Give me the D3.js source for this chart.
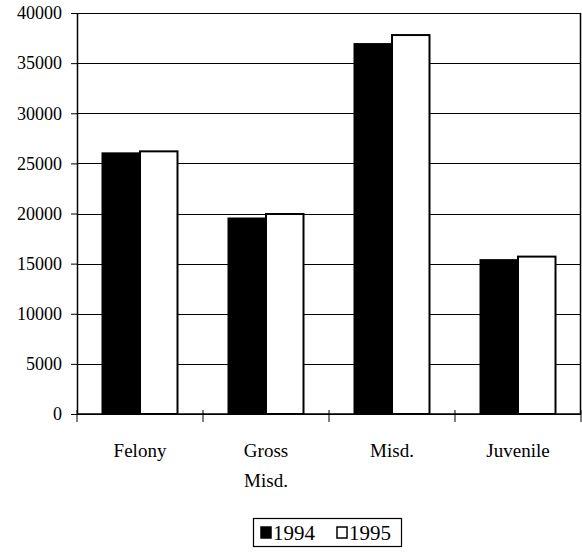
<!DOCTYPE html>
<html><head><meta charset="utf-8">
<script src="https://cdn.jsdelivr.net/npm/d3@7"></script>
<style>body{margin:0;background:#fff}svg{display:block}text{font-family:"Liberation Serif","Times New Roman",serif;fill:#000}</style>
</head><body>
<script>
const categories = ["Felony", "Gross Misd.", "Misd.", "Juvenile"];
const categoryLines = [["Felony"], ["Gross", "Misd."], ["Misd."], ["Juvenile"]];
const years = ["1994", "1995"];
const values1994 = [26000, 19500, 36900, 15350];
const values1995 = [26200, 19950, 37800, 15700];
const yTicks = [0, 5000, 10000, 15000, 20000, 25000, 30000, 35000, 40000];
const colors = {"1994": "#000", "1995": "#fff"};

(function () {
const W = 582, H = 557;
const svg = d3.select("body").append("svg").attr("width", W).attr("height", H);
const pLeft = 77, pRight = 581, pTop = 13, pBottom = 414;

const y = d3.scaleLinear().domain([0, 40000]).range([pBottom, pTop]);
const x0 = d3.scaleBand().domain(categories).range([pLeft, pRight]).padding(0);
const x1 = d3.scaleBand().domain(years).range([0, x0.bandwidth()]).paddingInner(0).paddingOuter(0.68);

// gridlines
svg.append("g").selectAll("line").data(yTicks).join("line")
  .attr("x1", pLeft).attr("x2", pRight)
  .attr("y1", d => Math.round(y(d)) + 0.5).attr("y2", d => Math.round(y(d)) + 0.5)
  .attr("stroke", "#000").attr("stroke-width", 1.2);

// right border
svg.append("line").attr("x1", pRight - 0.5).attr("x2", pRight - 0.5).attr("y1", pTop).attr("y2", pBottom)
  .attr("stroke", "#000").attr("stroke-width", 1.5);

// bars
const rows = categories.map((c, i) => ({cat: c, vals: [values1994[i], values1995[i]]}));
const g = svg.append("g").selectAll("g").data(rows).join("g")
  .attr("transform", d => `translate(${x0(d.cat)},0)`);
g.selectAll("rect").data(d => years.map((yr, j) => ({yr, v: d.vals[j]}))).join("rect")
  .attr("x", d => x1(d.yr))
  .attr("y", d => y(d.v))
  .attr("width", x1.bandwidth())
  .attr("height", d => y(0) - y(d.v))
  .attr("fill", d => colors[d.yr])
  .attr("stroke", "#000").attr("stroke-width", 2);

// y axis
const yAxis = d3.axisLeft(y).tickValues(yTicks).tickSize(6).tickSizeOuter(0).tickPadding(9).tickFormat(d3.format("d"));
const ya = svg.append("g").attr("transform", `translate(${pLeft},0)`).call(yAxis);
ya.select(".domain").attr("stroke", "#000").attr("stroke-width", 1.5);
ya.selectAll("line").attr("stroke", "#000");
ya.selectAll("text").attr("font-size", 18).attr("font-family", "Liberation Serif");

// x axis
const xa = svg.append("g").attr("transform", `translate(0,${pBottom})`);
xa.append("line").attr("x1", pLeft).attr("x2", pRight).attr("y1", 0).attr("y2", 0).attr("stroke", "#000").attr("stroke-width", 1.5);
const bounds = categories.map(c => x0(c)).concat([x0(categories[3]) + x0.bandwidth()]);
xa.selectAll("line.tk").data(bounds).join("line").attr("class", "tk")
  .attr("x1", d => d).attr("x2", d => d).attr("y1", -4).attr("y2", 8).attr("stroke", "#000");
xa.selectAll("text.cl").data(categories).join("text").attr("class", "cl")
  .attr("text-anchor", "middle").attr("font-size", 19)
  .attr("transform", (d) => `translate(${x0(d) + x0.bandwidth() / 2},0)`)
  .each(function(d, i) {
    d3.select(this).selectAll("tspan").data(categoryLines[i]).join("tspan")
      .attr("x", 0).attr("y", (t, k) => 43 + k * 30).text(t => t);
  });

// legend
const lg = svg.append("g");
lg.append("rect").attr("x", 253.5).attr("y", 518.5).attr("width", 148).attr("height", 28)
  .attr("fill", "#fff").attr("stroke", "#000").attr("stroke-width", 1.2);
const litems = [{yr: "1994", x: 261}, {yr: "1995", x: 337}];
litems.forEach(it => {
  lg.append("rect").attr("x", it.x).attr("y", 527).attr("width", 10).attr("height", 11)
    .attr("fill", colors[it.yr]).attr("stroke", "#000").attr("stroke-width", 1.5);
  lg.append("text").attr("x", it.x + 12).attr("y", 540).attr("font-size", 21).text(it.yr);
});
})();
</script>
</body></html>
